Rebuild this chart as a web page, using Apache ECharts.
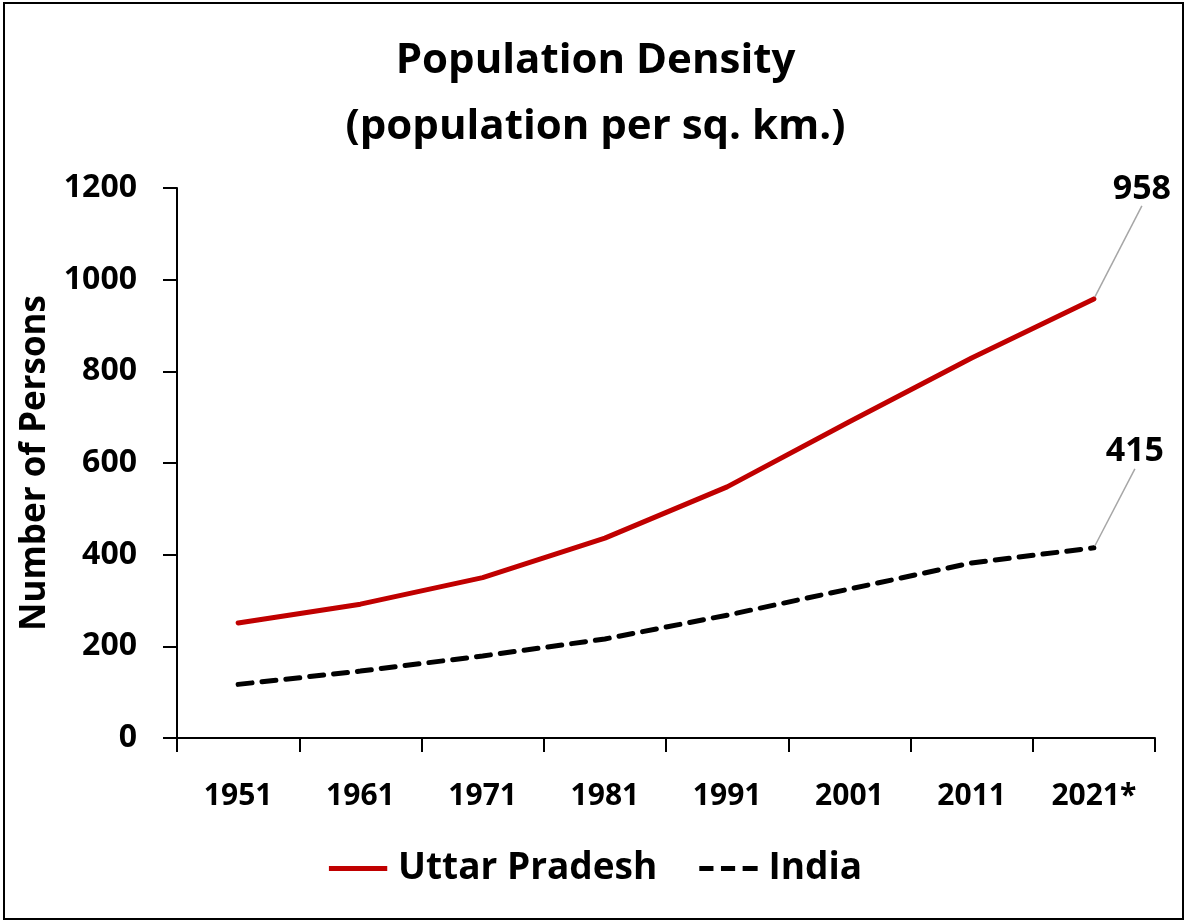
<!DOCTYPE html>
<html>
<head>
<meta charset="utf-8">
<script src="https://cdn.jsdelivr.net/npm/echarts@6/dist/echarts.min.js"></script>
<style>
  html, body { margin: 0; padding: 0; background: #fff; }
  #chart { width: 1191px; height: 923px; }
</style>
</head>
<body>
<div id="chart"></div>
<script>
// census years
const years = ['1951', '1961', '1971', '1981', '1991', '2001', '2011', '2021*']
// density, persons per sq. km
const upDensity = [251, 292, 350, 436, 548, 690, 829, 958]
const indiaDensity = [117, 146, 179, 216, 268, 325, 382, 415]
const yTicks = [0, 200, 400, 600, 800, 1000, 1200]

const font = '"Open Sans", Lato, sans-serif'
const chart = echarts.init(document.getElementById('chart'))
const lastIdx = years.length - 1

// only the last point gets a symbol and a label
function lastLabel(values) {
  return values.map((v, i) => {
    if (i !== lastIdx) return v
    return {
      value: v,
      symbol: 'circle',
      symbolSize: 4,
      label: {
        show: true,
        position: 'top',
        fontFamily: font,
        fontWeight: 'bold',
        fontSize: 34,
        color: '#000',
      },
    }
  })
}

// move the end label up and right, leader line back to the point
function shiftLabel(dx, dy) {
  return (params) => (params.dataIndex === lastIdx ? { dx: dx, dy: dy } : {})
}

const option = {
  animation: false,
  title: {
    text: 'Population Density\n(population per sq. km.)',
    left: 'center',
    top: 23,
    textStyle: {
      fontFamily: font,
      fontWeight: 'bold',
      fontSize: 42,
      lineHeight: 66,
      color: '#000',
    },
  },
  graphic: [
    {
      type: 'rect',
      shape: { x: 4, y: 3, width: 1179, height: 916 },
      style: { fill: 'none', stroke: '#000', lineWidth: 2 },
      silent: true,
    },
  ],
  legend: {
    bottom: 31,
    left: 'center',
    itemWidth: 70,
    itemHeight: 5,
    itemGap: 42,
    textStyle: {
      fontFamily: font,
      fontWeight: 'bold',
      fontSize: 37,
      color: '#000',
    },
    data: [
      { name: 'Uttar Pradesh', icon: 'path://M0,0h70v6h-70z' },
      { name: 'India', icon: 'path://M0,0h17v6h-17zM26,0h17v6h-17zM52,0h18v6h-18z' },
    ],
  },
  grid: {
    left: 177,
    right: 36,
    top: 188,
    bottom: 185,
  },
  xAxis: {
    type: 'category',
    data: years,
    boundaryGap: true,
    axisLine: { lineStyle: { color: '#000', width: 2 } },
    axisTick: { show: true, length: 14, lineStyle: { color: '#000', width: 2 } },
    axisLabel: {
      margin: 43,
      fontFamily: font,
      fontWeight: 'bold',
      fontSize: 30,
      color: '#000',
    },
  },
  yAxis: {
    type: 'value',
    min: yTicks[0],
    max: yTicks[yTicks.length - 1],
    interval: 200,
    name: 'Number of Persons',
    nameLocation: 'middle',
    nameGap: 122,
    nameRotate: 90,
    nameTextStyle: {
      fontFamily: font,
      fontWeight: 'bold',
      fontSize: 35,
      color: '#000',
    },
    axisLine: { show: true, lineStyle: { color: '#000', width: 2 } },
    axisTick: { show: true, length: 14, lineStyle: { color: '#000', width: 2 } },
    splitLine: { show: false },
    axisLabel: {
      margin: 40,
      formatter: (v) => String(v),
      fontFamily: font,
      fontWeight: 'bold',
      fontSize: 32,
      color: '#000',
    },
  },
  series: [
    {
      name: 'Uttar Pradesh',
      type: 'line',
      data: lastLabel(upDensity),
      symbol: 'none',
      lineStyle: { color: '#c00000', width: 5, cap: 'round' },
      itemStyle: { color: '#c00000' },
      labelLine: { show: true, lineStyle: { color: '#a6a6a6', width: 1.5 } },
      labelLayout: shiftLabel(48, -86),
    },
    {
      name: 'India',
      type: 'line',
      data: lastLabel(indiaDensity),
      symbol: 'none',
      lineStyle: { color: '#000', width: 5, type: [14, 10], cap: 'round' },
      itemStyle: { color: '#000' },
      labelLine: { show: true, lineStyle: { color: '#a6a6a6', width: 1.5 } },
      labelLayout: shiftLabel(41, -72),
    },
  ],
}

chart.setOption(option)
</script>
</body>
</html>
